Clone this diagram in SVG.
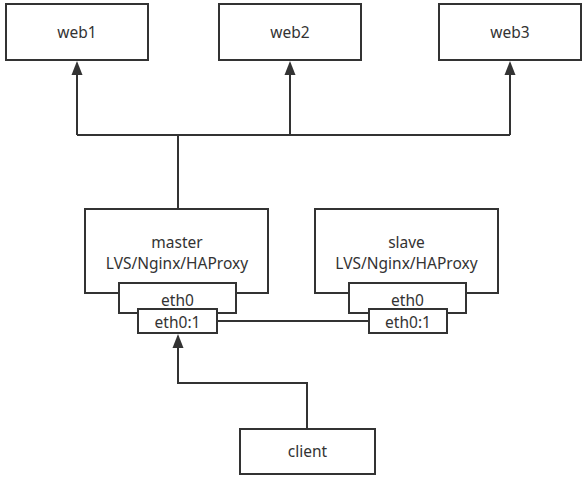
<svg xmlns="http://www.w3.org/2000/svg" width="587" height="480" viewBox="0 0 587 480">
<style>
.box{fill:#fff;stroke:#333;stroke-width:2}
.t{font-family:"Noto Sans","DejaVu Sans",sans-serif;font-size:15.5px;fill:#333;text-anchor:middle}
.c{fill:none;stroke:#333;stroke-width:2}
.ah{fill:#333;stroke:none}
</style>
<defs>
<path id="arrow" class="ah" d="M0,0 L-5.5,14 L5.5,14 Z"/>
</defs>
<g id="connectors">
<path class="c" d="M178,209 V135"/>
<path class="c" d="M77,135 H510"/>
<path class="c" d="M77,135 V72"/>
<path class="c" d="M290,135 V72"/>
<path class="c" d="M510,135 V72"/>
<use href="#arrow" x="77" y="61"/>
<use href="#arrow" x="290" y="61"/>
<use href="#arrow" x="510" y="61"/>
<path class="c" d="M217,321 H369"/>
<path class="c" d="M307,429 V383 H178 V345"/>
<use href="#arrow" x="178" y="334"/>
</g>
<g id="web1"><rect class="box" x="6" y="4" width="142" height="56"/><text class="t" x="77" y="38">web1</text></g>
<g id="web2"><rect class="box" x="219" y="4" width="142" height="56"/><text class="t" x="290" y="38">web2</text></g>
<g id="web3"><rect class="box" x="439" y="4" width="142" height="56"/><text class="t" x="510" y="38">web3</text></g>
<g id="master">
<rect class="box" x="85" y="209" width="183" height="84"/>
<text class="t" x="177" y="248">master</text>
<text class="t" x="177" y="269">LVS/Nginx/HAProxy</text>
</g>
<g id="master-eth0"><rect class="box" x="119" y="283" width="117" height="30"/><text class="t" x="177.5" y="306">eth0</text></g>
<g id="master-eth0-1"><rect class="box" x="138" y="309" width="79" height="24"/><text class="t" x="177.5" y="328">eth0:1</text></g>
<g id="slave">
<rect class="box" x="315" y="209" width="183" height="84"/>
<text class="t" x="406.5" y="248">slave</text>
<text class="t" x="406.5" y="269">LVS/Nginx/HAProxy</text>
</g>
<g id="slave-eth0"><rect class="box" x="349" y="283" width="117" height="30"/><text class="t" x="407.5" y="306">eth0</text></g>
<g id="slave-eth0-1"><rect class="box" x="369" y="309" width="78" height="24"/><text class="t" x="408" y="328">eth0:1</text></g>
<g id="client"><rect class="box" x="240" y="429" width="135" height="45"/><text class="t" x="307.5" y="457">client</text></g>
</svg>
